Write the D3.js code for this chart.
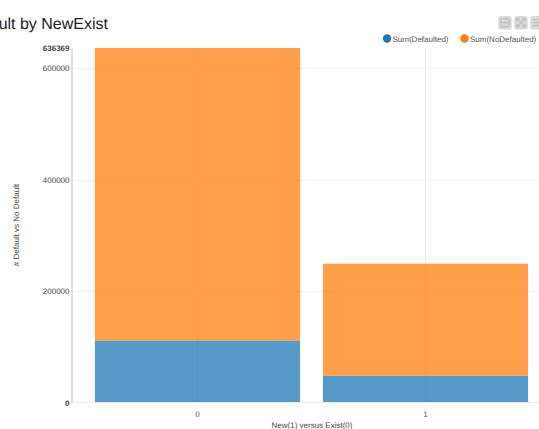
<!DOCTYPE html>
<html><head><meta charset="utf-8">
<script src="https://cdn.jsdelivr.net/npm/d3@7/dist/d3.min.js"></script>
<style>
html,body{margin:0;padding:0;background:#fff;overflow:hidden}
svg{display:block;font-family:"Liberation Sans",Arial,sans-serif;text-rendering:geometricPrecision}
</style></head><body>
<svg id="c" width="539" height="429"></svg>
<script>
const categories = ["0","1"];
const seriesNames = ["Sum(Defaulted)","Sum(NoDefaulted)"];
const defaulted = [111300, 48100];
const noDefaulted = [525069, 201100];
const yTicks = [0,200000,400000,600000,636369];
const titleText = "ult by NewExist";
const yTitle = "# Default vs No Default";
const xTitle = "New(1) versus Exist(0)";

const svg = d3.select("#c");
const colors = d3.scaleOrdinal(seriesNames, ["#1f77b4","#ff7f0e"]);
const x = d3.scaleBand(categories,[83.5,539.5]).paddingInner(0.1).paddingOuter(0.05);
const y = d3.scaleLinear([0,636369],[402.5,48]);
const rows = categories.map((c,i)=>({c,[seriesNames[0]]:defaulted[i],[seriesNames[1]]:noDefaulted[i]}));
const stacked = d3.stack().keys(seriesNames)(rows);

// grid
const grid = svg.append("g");
grid.selectAll("line.h").data(yTicks.filter(t=>t>0&&t<636369)).join("line")
  .attr("x1",71.5).attr("x2",539).attr("y1",d=>Math.round(y(d))+.5).attr("y2",d=>Math.round(y(d))+.5)
  .attr("stroke","#f0f0f0");
grid.selectAll("line.v").data(categories).join("line")
  .attr("x1",d=>x(d)+x.bandwidth()/2).attr("x2",d=>x(d)+x.bandwidth()/2).attr("y1",48).attr("y2",402.5)
  .attr("stroke","#efefef");

// bars
svg.append("g").selectAll("g").data(stacked).join("g")
  .attr("fill",d=>colors(d.key)).attr("fill-opacity",.75)
  .selectAll("rect").data(d=>d).join("rect")
  .attr("x",d=>x(d.data.c)).attr("width",x.bandwidth())
  .attr("y",d=>y(d[1])).attr("height",d=>y(d[0])-y(d[1]));

// axes
const yAxis = svg.append("g").attr("transform","translate(71.5,0)")
  .call(d3.axisLeft(y).tickValues(yTicks).tickSize(0).tickPadding(2).tickFormat(d3.format("d")));
yAxis.select(".domain").attr("stroke","#ccc").attr("stroke-width",1.2);
yAxis.selectAll("text").attr("font-size",8).attr("font-family","Liberation Sans").attr("fill","#444")
  .attr("font-weight",d=>(d===0||d===636369)?"bold":"normal");
const xAxis = svg.append("g").attr("transform","translate(0,402.5)")
  .call(d3.axisBottom(x).tickSize(0).tickPadding(9));
xAxis.select(".domain").remove();
svg.append("line").attr("x1",71.5).attr("x2",539).attr("y1",402.5).attr("y2",402.5).attr("stroke","#ececec");
xAxis.selectAll("text").attr("font-size",8).attr("font-family","Liberation Sans").attr("fill","#555");

// titles
svg.append("text").attr("x",108).attr("y",29).attr("text-anchor","end").attr("font-size",16).attr("fill","#222").text(titleText);
svg.append("text").attr("x",312).attr("y",428).attr("text-anchor","middle").attr("font-size",8).attr("fill","#444").text(xTitle);
svg.append("text").attr("transform","translate(18.5,225) rotate(-90)").attr("text-anchor","middle").attr("font-size",8).attr("fill","#444").text(yTitle);

// legend
const legendX = [387,464.5];
const lg = svg.append("g").selectAll("g").data(seriesNames).join("g")
  .attr("transform",(d,i)=>`translate(${legendX[i]},38.5)`);
lg.append("circle").attr("r",4.2).attr("fill",d=>colors(d));
lg.append("text").attr("x",5.5).attr("y",3).attr("font-size",8).attr("fill","#555").text(d=>d);

// toolbar
const tools = ["minus","expand","menu"];
const toolX = d3.scalePoint(tools,[505,537]);
const tb = svg.append("g").selectAll("g").data(tools).join("g").attr("transform",d=>`translate(${toolX(d)},22.7)`);
tb.append("rect").attr("x",-6.7).attr("y",-6.7).attr("width",13.4).attr("height",13.4).attr("rx",2.5).attr("fill","#d9d9d9");
const glyph = tb.append("g").attr("fill","none").attr("stroke","#b5b5b5").attr("stroke-width",1);
glyph.filter(d=>d==="minus").append("rect").attr("x",-4).attr("y",-4).attr("width",8).attr("height",8).attr("rx",1.5);
glyph.filter(d=>d==="minus").append("line").attr("x1",-2.5).attr("x2",2.5);
glyph.filter(d=>d==="expand").append("path").attr("d","M-4,-4L4,4M4,-4L-4,4M-4,-1.5V-4H-1.5M1.5,-4H4V-1.5M4,1.5V4H1.5M-1.5,4H-4V1.5");
glyph.filter(d=>d==="menu").selectAll("line").data([-3,0,3]).join("line").attr("x1",-4).attr("x2",4).attr("y1",d=>d).attr("y2",d=>d);
</script>
</body></html>
